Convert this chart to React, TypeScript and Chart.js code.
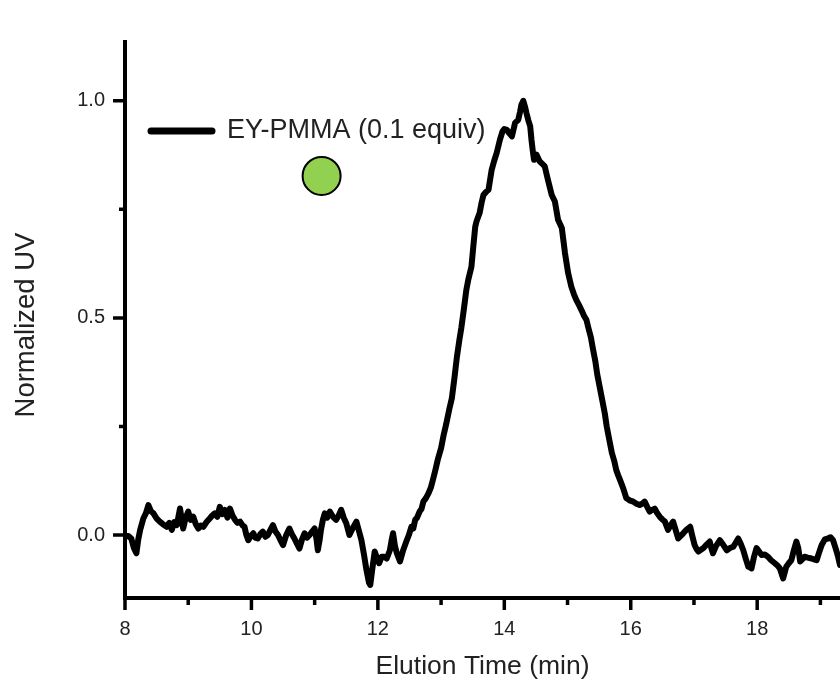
import React, { useEffect, useRef } from 'react';
import { Chart, registerables } from 'chart.js';

Chart.register(...registerables);

const seriesLabel = 'EY-PMMA (0.1 equiv)';
const xTitle = 'Elution Time (min)';
const yTitle = 'Normalized UV';

const elutionTime = [
  8.00, 8.05, 8.10, 8.14, 8.18, 8.21, 8.24, 8.29, 8.33, 8.37, 8.41, 8.45, 8.50, 8.55, 8.60, 8.66, 8.70, 8.74, 8.78, 8.82,
  8.87, 8.92, 8.96, 9.00, 9.04, 9.08, 9.12, 9.16, 9.20, 9.24, 9.29, 9.34, 9.38, 9.42, 9.46, 9.50, 9.54, 9.58, 9.62, 9.66,
  9.70, 9.74, 9.78, 9.82, 9.86, 9.89, 9.92, 9.95, 9.99, 10.03, 10.06, 10.10, 10.14, 10.18, 10.22, 10.26, 10.30, 10.34, 10.38, 10.42,
  10.46, 10.50, 10.55, 10.60, 10.64, 10.68, 10.72, 10.76, 10.80, 10.84, 10.88, 10.92, 10.96, 11.00, 11.03, 11.05, 11.08, 11.10, 11.13, 11.16,
  11.20, 11.24, 11.29, 11.34, 11.38, 11.42, 11.46, 11.50, 11.55, 11.60, 11.66, 11.70, 11.74, 11.78, 11.82, 11.86, 11.88, 11.91, 11.95, 11.99,
  12.02, 12.06, 12.10, 12.14, 12.19, 12.22, 12.24, 12.27, 12.30, 12.35, 12.40, 12.45, 12.49, 12.53, 12.56, 12.59, 12.62, 12.66, 12.69, 12.72,
  12.76, 12.80, 12.84, 12.87, 12.91, 12.95, 13.00, 13.04, 13.08, 13.13, 13.17, 13.21, 13.25, 13.29, 13.32, 13.36, 13.40, 13.43, 13.48, 13.51,
  13.54, 13.56, 13.61, 13.64, 13.67, 13.71, 13.75, 13.80, 13.84, 13.88, 13.93, 13.97, 14.00, 14.04, 14.08, 14.12, 14.17, 14.22, 14.25, 14.27,
  14.30, 14.33, 14.35, 14.38, 14.41, 14.43, 14.45, 14.47, 14.51, 14.56, 14.60, 14.64, 14.69, 14.75, 14.80, 14.85, 14.91, 14.96, 15.01, 15.06,
  15.10, 15.14, 15.18, 15.22, 15.26, 15.30, 15.33, 15.37, 15.40, 15.44, 15.47, 15.51, 15.55, 15.59, 15.62, 15.66, 15.70, 15.74, 15.77, 15.80,
  15.83, 15.88, 15.93, 15.98, 16.04, 16.09, 16.14, 16.18, 16.22, 16.26, 16.30, 16.34, 16.38, 16.42, 16.46, 16.50, 16.54, 16.59, 16.63, 16.67,
  16.71, 16.75, 16.79, 16.83, 16.88, 16.94, 16.97, 17.01, 17.04, 17.07, 17.11, 17.15, 17.20, 17.25, 17.27, 17.30, 17.35, 17.41, 17.46, 17.52,
  17.57, 17.62, 17.66, 17.70, 17.74, 17.78, 17.82, 17.86, 17.91, 17.95, 17.99, 18.03, 18.07, 18.12, 18.17, 18.22, 18.28, 18.32, 18.36, 18.41,
  18.46, 18.50, 18.54, 18.58, 18.62, 18.65, 18.68, 18.72, 18.75, 18.80, 18.86, 18.90, 18.94, 18.98, 19.02, 19.07, 19.12, 19.16, 19.20, 19.24,
  19.28, 19.31,
];

const normalizedUV = [
  -0.004, -0.002, -0.008, -0.030, -0.042, -0.010, 0.012, 0.038, 0.050, 0.069, 0.055, 0.050, 0.038, 0.031, 0.025, 0.019, 0.028, 0.012, 0.030, 0.023,
  0.061, 0.015, 0.040, 0.054, 0.035, 0.042, 0.025, 0.015, 0.022, 0.019, 0.030, 0.038, 0.045, 0.050, 0.042, 0.065, 0.048, 0.058, 0.040, 0.061,
  0.045, 0.035, 0.028, 0.031, 0.022, 0.019, 0.000, -0.012, -0.002, 0.004, -0.006, -0.008, 0.002, 0.008, -0.004, 0.000, 0.012, 0.023, 0.008, 0.000,
  -0.012, -0.023, 0.000, 0.015, 0.002, -0.008, -0.020, -0.031, -0.010, 0.004, -0.006, 0.000, 0.008, 0.015, -0.010, -0.035, -0.010, 0.012, 0.035, 0.050,
  0.040, 0.054, 0.042, 0.035, 0.045, 0.058, 0.040, 0.027, 0.000, 0.015, 0.031, 0.010, -0.012, -0.045, -0.081, -0.110, -0.115, -0.080, -0.038, -0.055,
  -0.065, -0.050, -0.050, -0.054, -0.035, -0.010, 0.004, -0.025, -0.042, -0.061, -0.035, -0.015, 0.000, 0.019, 0.015, 0.035, 0.040, 0.054, 0.060, 0.077,
  0.085, 0.096, 0.110, 0.127, 0.150, 0.175, 0.200, 0.230, 0.255, 0.290, 0.315, 0.360, 0.410, 0.450, 0.477, 0.520, 0.565, 0.588, 0.618, 0.665,
  0.710, 0.722, 0.742, 0.765, 0.783, 0.790, 0.795, 0.841, 0.862, 0.880, 0.910, 0.929, 0.935, 0.933, 0.925, 0.918, 0.949, 0.956, 0.975, 0.991,
  1.000, 0.985, 0.972, 0.955, 0.941, 0.910, 0.885, 0.864, 0.876, 0.860, 0.855, 0.849, 0.818, 0.783, 0.768, 0.726, 0.707, 0.649, 0.603, 0.572,
  0.555, 0.541, 0.530, 0.518, 0.505, 0.495, 0.477, 0.455, 0.430, 0.400, 0.370, 0.340, 0.310, 0.280, 0.250, 0.220, 0.190, 0.170, 0.150, 0.138,
  0.127, 0.108, 0.085, 0.080, 0.077, 0.072, 0.069, 0.072, 0.077, 0.065, 0.054, 0.058, 0.061, 0.050, 0.042, 0.036, 0.031, 0.012, 0.022, 0.031,
  0.012, -0.008, -0.002, 0.004, 0.012, 0.019, 0.000, -0.023, -0.032, -0.038, -0.034, -0.030, -0.022, -0.015, -0.028, -0.042, -0.025, -0.012, -0.022, -0.035,
  -0.030, -0.027, -0.018, -0.008, -0.020, -0.035, -0.055, -0.073, -0.077, -0.050, -0.030, -0.038, -0.046, -0.045, -0.050, -0.058, -0.065, -0.070, -0.077, -0.100,
  -0.073, -0.065, -0.058, -0.035, -0.015, -0.030, -0.061, -0.055, -0.050, -0.052, -0.054, -0.056, -0.058, -0.040, -0.023, -0.010, -0.008, -0.005, -0.012, -0.030,
  -0.050, -0.069,
];

const markerPoint = [{ x: 11.11, y: 0.827 }];

const xMajorTicks = [8, 10, 12, 14, 16, 18];
const xMinorTicks = [9, 11, 13, 15, 17, 19];
const yMajorTicks = [0, 0.5, 1.0];
const yMinorTicks = [0.25, 0.75];
const xRange = [8, 19.31];
const yRange = [-0.145, 1.14];

const FONT = "'Liberation Sans', Arial, sans-serif";
const TEXT = '#222222';

const axesPlugin = {
  id: 'axesTicksLegend',
  afterDatasetsDraw(chart: any) {
    const { ctx, chartArea: a, scales } = chart;
    const x = scales.x;
    const y = scales.y;
    ctx.save();
    ctx.strokeStyle = '#000';
    ctx.lineCap = 'butt';
    // axis lines
    ctx.lineWidth = 4;
    ctx.beginPath();
    ctx.moveTo(a.left, a.top);
    ctx.lineTo(a.left, a.bottom + 2);
    ctx.moveTo(a.left - 2, a.bottom);
    ctx.lineTo(a.right, a.bottom);
    ctx.stroke();
    // ticks
    ctx.lineWidth = 3.5;
    ctx.beginPath();
    yMajorTicks.forEach((v) => {
      const p = y.getPixelForValue(v);
      ctx.moveTo(a.left - 12, p);
      ctx.lineTo(a.left, p);
    });
    yMinorTicks.forEach((v) => {
      const p = y.getPixelForValue(v);
      ctx.moveTo(a.left - 6, p);
      ctx.lineTo(a.left, p);
    });
    xMajorTicks.forEach((v) => {
      const p = x.getPixelForValue(v);
      ctx.moveTo(p, a.bottom);
      ctx.lineTo(p, a.bottom + 12);
    });
    xMinorTicks.forEach((v) => {
      const p = x.getPixelForValue(v);
      ctx.moveTo(p, a.bottom);
      ctx.lineTo(p, a.bottom + 7);
    });
    ctx.stroke();
    // legend
    const lx = a.left + 26;
    const ly = a.top + 91;
    ctx.lineWidth = 7;
    ctx.lineCap = 'round';
    ctx.beginPath();
    ctx.moveTo(lx, ly);
    ctx.lineTo(lx + 61, ly);
    ctx.stroke();
    ctx.fillStyle = TEXT;
    ctx.font = `27px ${FONT}`;
    ctx.textBaseline = 'middle';
    ctx.textAlign = 'left';
    ctx.fillText(chart.data.datasets[0].label, lx + 76, ly);
    // y-axis title
    ctx.save();
    ctx.translate(26, (a.top + a.bottom) / 2 + 6);
    ctx.rotate(-Math.PI / 2);
    ctx.font = `27.5px ${FONT}`;
    ctx.textAlign = 'center';
    ctx.textBaseline = 'middle';
    ctx.fillText(yTitle, 0, 0);
    ctx.restore();
    ctx.restore();
  },
};

export default function App() {
  const ref = useRef<HTMLCanvasElement | null>(null);

  useEffect(() => {
    if (!ref.current) return;
    const chart = new Chart(ref.current, {
      type: 'line',
      data: {
        datasets: [
          {
            label: seriesLabel,
            data: elutionTime.map((t, i) => ({ x: t, y: normalizedUV[i] })),
            borderColor: '#000',
            borderWidth: 6,
            pointRadius: 0,
            tension: 0,
            borderJoinStyle: 'round',
            borderCapStyle: 'round',
          },
          {
            type: 'scatter',
            label: 'marker',
            data: markerPoint,
            pointRadius: 19,
            pointBackgroundColor: '#92d050',
            pointBorderColor: '#000',
            pointBorderWidth: 2,
            showLine: false,
          } as any,
        ],
      },
      options: {
        animation: false,
        responsive: false,
        layout: { autoPadding: false, padding: { top: 40, right: 0, bottom: 0, left: 0 } },
        plugins: { legend: { display: false }, tooltip: { enabled: false } },
        scales: {
          x: {
            type: 'linear',
            min: xRange[0],
            max: xRange[1],
            grid: { display: false, drawTicks: false },
            border: { display: false },
            afterBuildTicks: (s: any) => {
              s.ticks = [...xMajorTicks, ...xMinorTicks].sort((p, q) => p - q).map((v) => ({ value: v }));
            },
            afterFit: (s: any) => {
              s.height = 85;
            },
            ticks: {
              autoSkip: false,
              maxRotation: 0,
              padding: 19,
              color: TEXT,
              font: { family: FONT, size: 20 },
              callback: (v: any) => (xMajorTicks.includes(Number(v)) ? String(v) : ''),
            },
            title: {
              display: true,
              text: xTitle,
              color: TEXT,
              font: { family: FONT, size: 26.5 },
              padding: { top: 0, bottom: 0 },
            },
          },
          y: {
            type: 'linear',
            min: yRange[0],
            max: yRange[1],
            grid: { display: false, drawTicks: false },
            border: { display: false },
            afterBuildTicks: (s: any) => {
              s.ticks = [...yMajorTicks, ...yMinorTicks].sort((p, q) => p - q).map((v) => ({ value: v }));
            },
            afterFit: (s: any) => {
              s.width = 125;
            },
            ticks: {
              autoSkip: false,
              padding: 20,
              color: TEXT,
              font: { family: FONT, size: 20 },
              callback: (v: any) => (yMajorTicks.includes(Number(v)) ? Number(v).toFixed(1) : ''),
            },
            title: { display: false },
          },
        },
      },
      plugins: [axesPlugin],
    } as any);
    return () => chart.destroy();
  }, []);

  return (
    <div style={{ position: 'fixed', left: 0, top: 0, width: 840, height: 683, background: '#fff' }}>
      <canvas ref={ref} width={840} height={683} style={{ display: 'block' }} />
    </div>
  );
}
